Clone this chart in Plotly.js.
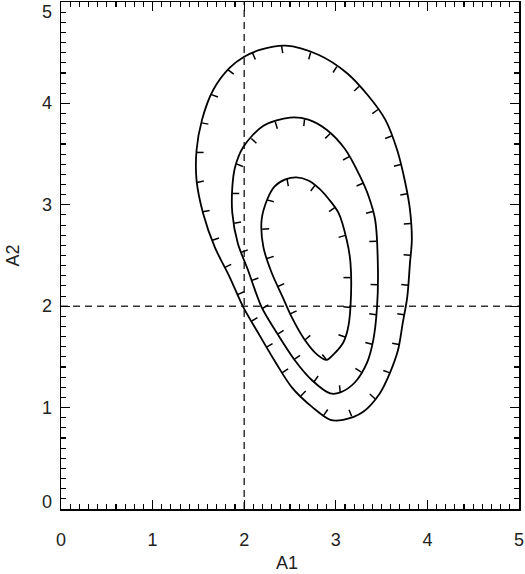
<!DOCTYPE html>
<html>
<head>
<meta charset="utf-8">
<script src="https://cdn.plot.ly/plotly-3.0.1.min.js"></script>
<style>
  html, body { margin: 0; padding: 0; background: #fff; }
  #plot { width: 525px; height: 574px; }
</style>
</head>
<body>
<div id="plot"></div>
<script>
// axis ticks
var xTickVals = [0, 1, 2, 3, 4, 5];
var xTickText = ['0', '1', '2', '3', '4', '5'];
var yTickVals = [0, 1, 2, 3, 4, 5];
var yTickText = ['0', '1', '2', '3', '4', '5'];

// reference (dashed) values
var refA1 = 2;
var refA2 = 2;

// contour levels (A1, A2)
var outerX = [3.83, 3.81, 3.78, 3.73, 3.68, 3.59, 3.48, 3.30, 3.08, 2.94, 2.75, 2.52, 2.34, 2.15, 1.99, 1.84, 1.68, 1.55, 1.48, 1.48, 1.54, 1.66, 1.84, 2.00, 2.18, 2.45, 2.81, 3.12, 3.35, 3.54, 3.67, 3.76, 3.81];
var outerY = [2.65, 2.43, 2.09, 1.83, 1.57, 1.34, 1.14, 0.96, 0.88, 0.88, 1.00, 1.20, 1.45, 1.74, 1.99, 2.29, 2.58, 2.92, 3.24, 3.54, 3.84, 4.13, 4.35, 4.46, 4.53, 4.57, 4.48, 4.30, 4.08, 3.84, 3.54, 3.21, 2.95];

var middleX = [3.46, 3.45, 3.41, 3.34, 3.21, 3.05, 2.94, 2.74, 2.55, 2.34, 2.19, 2.04, 1.93, 1.87, 1.87, 1.90, 1.99, 2.21, 2.50, 2.70, 2.90, 3.10, 3.26, 3.36, 3.43];
var middleY = [2.36, 1.99, 1.67, 1.44, 1.25, 1.15, 1.14, 1.27, 1.47, 1.76, 1.99, 2.36, 2.62, 2.92, 3.17, 3.37, 3.57, 3.78, 3.86, 3.84, 3.74, 3.55, 3.29, 3.08, 2.85];

var innerX = [3.16, 3.16, 3.13, 3.08, 2.97, 2.90, 2.80, 2.66, 2.52, 2.42, 2.30, 2.21, 2.19, 2.25, 2.33, 2.45, 2.57, 2.70, 2.82, 2.92, 3.03, 3.12];
var innerY = [2.43, 1.99, 1.77, 1.64, 1.52, 1.47, 1.52, 1.67, 1.89, 2.09, 2.33, 2.58, 2.85, 3.05, 3.18, 3.25, 3.27, 3.24, 3.16, 3.06, 2.92, 2.65];

var W = 525, H = 574;
var margin = {l: 61, r: 6, t: 2, b: 65};
var xRange = [0, 5], yRange = [0, 5];
var sx = (W - margin.l - margin.r) / (xRange[1] - xRange[0]);
var sy = (H - margin.t - margin.b) / (yRange[1] - yRange[0]);

function closed(a) { return a.concat([a[0]]); }

// little inward ticks along a closed contour
function contourTicks(xs, ys, spacing, len) {
    var px = xs.map(function(v) { return v * sx; });
    var py = ys.map(function(v) { return v * sy; });
    px.push(px[0]); py.push(py[0]);
    var area = 0;
    for (var i = 0; i < px.length - 1; i++) area += px[i] * py[i + 1] - px[i + 1] * py[i];
    var ccw = area > 0;
    var tx = [], ty = [];
    var next = spacing / 2, acc = 0;
    for (var i = 0; i < px.length - 1; i++) {
        var dx = px[i + 1] - px[i], dy = py[i + 1] - py[i];
        var seg = Math.sqrt(dx * dx + dy * dy);
        while (acc + seg >= next) {
            var f = (next - acc) / seg;
            var x0 = px[i] + dx * f, y0 = py[i] + dy * f;
            var ux = dx / seg, uy = dy / seg;
            var nx = ccw ? -uy : uy, ny = ccw ? ux : -ux;
            tx.push(x0 / sx, (x0 + nx * len) / sx, null);
            ty.push(y0 / sy, (y0 + ny * len) / sy, null);
            next += spacing;
        }
        acc += seg;
    }
    return {x: tx, y: ty};
}

var levels = [[outerX, outerY], [middleX, middleY], [innerX, innerY]];
var data = [];
levels.forEach(function(l) {
    data.push({
        x: closed(l[0]), y: closed(l[1]),
        type: 'scatter', mode: 'lines',
        line: {color: '#000', width: 1.8, shape: 'spline', smoothing: 0.9},
        hoverinfo: 'none', showlegend: false
    });
    var t = contourTicks(l[0], l[1], 30, 7);
    data.push({
        x: t.x, y: t.y,
        type: 'scatter', mode: 'lines',
        line: {color: '#000', width: 1.5},
        hoverinfo: 'none', showlegend: false
    });
});

var tickFont = {family: 'Liberation Sans, Arial, sans-serif', size: 18, color: '#222'};

var annotations = yTickVals.map(function(v, i) {
    var shift = 0;
    if (v === yRange[0]) shift = 7;
    if (v === yRange[1]) shift = -10;
    return {
        x: 0, xref: 'paper', xanchor: 'right', xshift: -7,
        y: v, yref: 'y', yanchor: 'middle', yshift: shift,
        text: yTickText[i], showarrow: false, font: tickFont
    };
});
annotations.push({
    x: 0.493, xref: 'paper', xanchor: 'center',
    y: 0, yref: 'paper', yanchor: 'middle', yshift: -54,
    text: 'A1', showarrow: false, font: tickFont
});
annotations.push({
    x: 0, xref: 'paper', xanchor: 'center', xshift: -49,
    y: 0.5, yref: 'paper', yanchor: 'middle',
    text: 'A2', textangle: -90, showarrow: false, font: tickFont
});

var axisCommon = {
    showgrid: false, zeroline: false,
    showline: true, linecolor: '#000', linewidth: 1.5, mirror: 'ticks',
    ticks: 'inside', ticklen: 9, tickwidth: 1.3, tickcolor: '#000',
    minor: {ticks: 'inside', dtick: 0.1, ticklen: 5, tickwidth: 1.1, tickcolor: '#000', showgrid: false},
    fixedrange: true
};

var layout = {
    width: W, height: H,
    margin: margin,
    paper_bgcolor: '#fff', plot_bgcolor: '#fff',
    xaxis: Object.assign({}, axisCommon, {
        range: xRange, tickmode: 'array', tickvals: xTickVals, ticktext: xTickText,
        tickfont: tickFont, ticklabelstandoff: 14
    }),
    yaxis: Object.assign({}, axisCommon, {
        range: yRange, tickmode: 'array', tickvals: yTickVals, showticklabels: false
    }),
    shapes: [
        {type: 'line', xref: 'x', yref: 'paper', x0: refA1, x1: refA1, y0: 0, y1: 1,
         line: {color: '#333', width: 1.5, dash: '7px,5px'}, layer: 'below'},
        {type: 'line', xref: 'paper', yref: 'y', x0: 0, x1: 1, y0: refA2, y1: refA2,
         line: {color: '#333', width: 1.5, dash: '7px,5px'}, layer: 'below'}
    ],
    annotations: annotations,
    showlegend: false
};

Plotly.newPlot('plot', data, layout, {displayModeBar: false, staticPlot: true});
</script>
</body>
</html>
